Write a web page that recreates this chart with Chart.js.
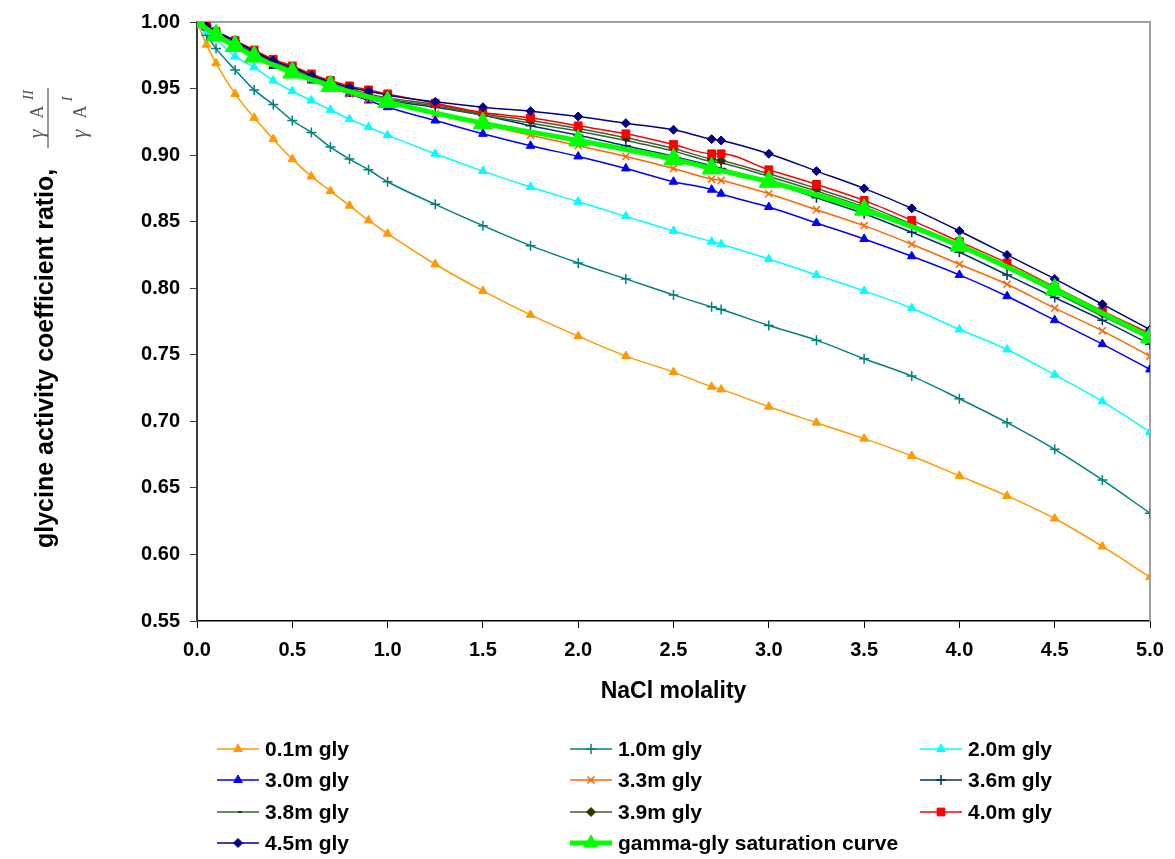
<!DOCTYPE html>
<html>
<head>
<meta charset="utf-8">
<script src="https://cdn.jsdelivr.net/npm/chart.js@4.4.1/dist/chart.umd.min.js"></script>
<style>
html, body { margin: 0; padding: 0; background: #fff; }
#wrap { width: 1175px; height: 859px; position: relative; }
</style>
</head>
<body>
<div id="wrap"><canvas id="chart_glycineActivityRatio"></canvas></div>
<script>
// NaCl molality grid shared by the glycine series
var naclMolality = [0, 0.05, 0.1, 0.2, 0.3, 0.4, 0.5, 0.6, 0.7, 0.8, 0.9, 1.0,
    1.25, 1.5, 1.75, 2.0, 2.25, 2.5, 2.7, 2.75, 3.0, 3.25, 3.5, 3.75, 4.0, 4.25, 4.5, 4.75, 5.0];

var gly01 = [1.000, 0.983, 0.969, 0.946, 0.928, 0.912, 0.897, 0.884, 0.873, 0.862, 0.851, 0.841,
    0.818, 0.798, 0.780, 0.764, 0.749, 0.737, 0.726, 0.724, 0.711, 0.699, 0.687, 0.674, 0.659, 0.644, 0.627, 0.606, 0.583];
var gly10 = [1.000, 0.990, 0.980, 0.964, 0.949, 0.938, 0.926, 0.917, 0.906, 0.897, 0.889, 0.880,
    0.863, 0.847, 0.832, 0.819, 0.807, 0.795, 0.786, 0.784, 0.772, 0.761, 0.747, 0.734, 0.717, 0.699, 0.679, 0.656, 0.631];
var gly20 = [1.000, 0.993, 0.987, 0.974, 0.966, 0.956, 0.948, 0.941, 0.934, 0.927, 0.921, 0.915,
    0.901, 0.888, 0.876, 0.865, 0.854, 0.843, 0.835, 0.833, 0.822, 0.810, 0.798, 0.785, 0.769, 0.754, 0.735, 0.715, 0.692];
var gly30 = [1.000, 0.996, 0.991, 0.983, 0.975, 0.967, 0.961, 0.956, 0.951, 0.946, 0.941, 0.936,
    0.926, 0.916, 0.907, 0.899, 0.890, 0.880, 0.874, 0.871, 0.861, 0.849, 0.837, 0.824, 0.810, 0.794, 0.776, 0.758, 0.739];
var gly33 = [1.000, 0.997, 0.992, 0.984, 0.976, 0.969, 0.963, 0.957, 0.951, 0.946, 0.942, 0.939,
    0.931, 0.923, 0.915, 0.907, 0.899, 0.890, 0.882, 0.881, 0.871, 0.859, 0.847, 0.833, 0.818, 0.803, 0.785, 0.768, 0.749];
var gly36 = [1.000, 0.997, 0.992, 0.984, 0.977, 0.970, 0.964, 0.958, 0.953, 0.948, 0.944, 0.941,
    0.936, 0.930, 0.922, 0.915, 0.907, 0.899, 0.892, 0.890, 0.880, 0.868, 0.856, 0.842, 0.827, 0.810, 0.793, 0.776, 0.758];
var gly38 = [1.000, 0.997, 0.992, 0.985, 0.977, 0.970, 0.964, 0.958, 0.953, 0.949, 0.945, 0.942,
    0.937, 0.930, 0.924, 0.918, 0.911, 0.903, 0.895, 0.894, 0.884, 0.873, 0.861, 0.846, 0.831, 0.815, 0.797, 0.779, 0.762];
var gly39 = [1.000, 0.997, 0.992, 0.985, 0.978, 0.971, 0.965, 0.959, 0.954, 0.950, 0.946, 0.943,
    0.938, 0.931, 0.926, 0.920, 0.913, 0.905, 0.897, 0.896, 0.886, 0.875, 0.863, 0.848, 0.833, 0.817, 0.799, 0.781, 0.764];
var gly40 = [1.000, 0.997, 0.993, 0.986, 0.979, 0.972, 0.967, 0.961, 0.956, 0.952, 0.949, 0.946,
    0.939, 0.932, 0.928, 0.922, 0.916, 0.908, 0.901, 0.901, 0.889, 0.878, 0.866, 0.851, 0.835, 0.819, 0.801, 0.783, 0.766];
var gly45 = [1.000, 0.997, 0.993, 0.986, 0.978, 0.971, 0.966, 0.960, 0.955, 0.951, 0.948, 0.945,
    0.940, 0.936, 0.933, 0.929, 0.924, 0.919, 0.912, 0.911, 0.901, 0.888, 0.875, 0.860, 0.843, 0.825, 0.807, 0.788, 0.769];

// gamma-glycine saturation curve has its own molality points
var satMolality = [0, 0.1, 0.2, 0.3, 0.5, 0.7, 1.0, 1.5, 2.0, 2.5, 2.7, 3.0, 3.5, 4.0, 4.5, 5.0];
var satRatio = [1.000, 0.990, 0.982, 0.974, 0.962, 0.952, 0.940, 0.924, 0.911, 0.897, 0.890, 0.880, 0.859, 0.832, 0.799, 0.763];

var seriesLabels = ['0.1m gly', '1.0m gly', '2.0m gly', '3.0m gly', '3.3m gly', '3.6m gly',
    '3.8m gly', '3.9m gly', '4.0m gly', '4.5m gly', 'gamma-gly saturation curve'];

var FONT = 'Arial, "Liberation Sans", Helvetica, sans-serif';
var SERIF = '"Liberation Serif", "DejaVu Serif", serif';
Chart.defaults.font.family = FONT;

function toPoints(xs, ys) {
    return xs.map(function (x, i) { return { x: x, y: ys[i] }; });
}

function series(i, xs, ys, line, marker, style, radius, lineWidth) {
    return {
        label: seriesLabels[i],
        data: toPoints(xs, ys),
        showLine: true,
        cubicInterpolationMode: 'monotone',
        borderColor: line,
        borderWidth: lineWidth || 1.5,
        pointStyle: style,
        pointRadius: radius,
        pointBackgroundColor: marker,
        pointBorderColor: marker,
        pointBorderWidth: (style === 'cross' || style === 'crossRot' || style === 'dash') ? 1.5 : 1,
        order: 20 - i
    };
}

var datasets = [
    series(0, naclMolality, gly01, '#FF9900', '#FF9900', 'triangle', 5),
    series(1, naclMolality, gly10, '#008080', '#008080', 'cross', 5),
    series(2, naclMolality, gly20, '#00FFFF', '#00FFFF', 'triangle', 5),
    series(3, naclMolality, gly30, '#0000FF', '#0000FF', 'triangle', 5),
    series(4, naclMolality, gly33, '#FF6600', '#FF6600', 'crossRot', 5),
    series(5, naclMolality, gly36, '#003366', '#003366', 'cross', 5),
    series(6, naclMolality, gly38, '#336633', '#002200', 'dash', 4),
    series(7, naclMolality, gly39, '#555533', '#333300', 'rectRot', 4.5),
    series(8, naclMolality, gly40, '#FF0000', '#FF0000', 'rect', 5.5),
    series(9, naclMolality, gly45, '#000080', '#000080', 'rectRot', 4.5),
    series(10, satMolality, satRatio, '#00FF00', '#00FF00', 'triangle', 11, 5)
];

var frameLines = {
    id: 'frameLines',
    beforeDatasetsDraw: function (chart) {
        var a = chart.chartArea, ctx = chart.ctx;
        ctx.save();
        ctx.strokeStyle = '#a0a0a0';
        ctx.lineWidth = 2;
        ctx.beginPath();
        ctx.moveTo(a.left, a.top);
        ctx.lineTo(a.right, a.top);
        ctx.lineTo(a.right, a.bottom);
        ctx.stroke();
        ctx.restore();
    }
};

var yTitle = {
    id: 'yTitle',
    afterDraw: function (chart) {
        var ctx = chart.ctx;
        ctx.save();
        ctx.translate(53, 548);
        ctx.rotate(-Math.PI / 2);
        ctx.fillStyle = '#000';
        ctx.font = 'bold 25px ' + FONT;
        ctx.textAlign = 'left';
        ctx.textBaseline = 'alphabetic';
        ctx.fillText('glycine activity coefficient ratio,', 0, 0);
        // fraction gamma^II_A / gamma^I_A
        ctx.fillStyle = '#555';
        ctx.strokeStyle = '#555';
        ctx.textAlign = 'center';
        ctx.textBaseline = 'middle';
        ctx.lineWidth = 1.2;
        ctx.beginPath();
        ctx.moveTo(400, -5);
        ctx.lineTo(460, -5);
        ctx.stroke();
        ctx.font = 'italic 22px ' + SERIF;
        ctx.fillText('\u03B3', 414, -16);
        ctx.fillText('\u03B3', 414, 27);
        ctx.font = '18px ' + SERIF;
        ctx.fillText('A', 436, -15);
        ctx.fillText('A', 436, 28);
        ctx.font = 'italic 15px ' + SERIF;
        ctx.fillText('II', 453, -24);
        ctx.fillText('I', 449, 15);
        ctx.restore();
    }
};

var gridLegend = {
    id: 'gridLegend',
    afterDraw: function (chart) {
        var ctx = chart.ctx;
        var colX = [217, 570, 920];
        var rowY = [749, 780, 812, 843];
        chart.data.datasets.forEach(function (ds, i) {
            var x0 = colX[i % 3], y = rowY[Math.floor(i / 3)];
            ctx.save();
            ctx.strokeStyle = ds.borderColor;
            ctx.lineWidth = ds.borderWidth;
            ctx.beginPath();
            ctx.moveTo(x0, y);
            ctx.lineTo(x0 + 42, y);
            ctx.stroke();
            ctx.fillStyle = ds.pointBackgroundColor;
            ctx.strokeStyle = ds.pointBorderColor;
            ctx.lineWidth = ds.pointBorderWidth;
            Chart.helpers.drawPoint(ctx, {
                pointStyle: ds.pointStyle,
                radius: ds.pointRadius > 6 ? 8 : ds.pointRadius,
                borderWidth: ds.pointBorderWidth,
                rotation: 0
            }, x0 + 21, y);
            ctx.fillStyle = '#000';
            ctx.font = 'bold 21px ' + FONT;
            ctx.textAlign = 'left';
            ctx.textBaseline = 'middle';
            ctx.fillText(ds.label, x0 + 48, y + 1);
            ctx.restore();
        });
    }
};

var chart_glycineActivityRatio = new Chart(document.getElementById('chart_glycineActivityRatio'), {
    type: 'scatter',
    data: { datasets: datasets },
    options: {
        animation: false,
        responsive: true,
        maintainAspectRatio: false,
        layout: { padding: { left: 0, top: 19, right: 25, bottom: 148 } },
        plugins: {
            legend: { display: false },
            tooltip: { enabled: false }
        },
        scales: {
            x: {
                type: 'linear',
                min: 0,
                max: 5,
                ticks: {
                    stepSize: 0.5,
                    maxRotation: 0,
                    padding: 10,
                    color: '#000',
                    font: { size: 20, weight: 'bold' },
                    callback: function (v) { return v.toFixed(1); }
                },
                grid: { drawOnChartArea: false, drawTicks: true, tickLength: 7, color: '#000' },
                border: { color: '#000', width: 1.5 },
                title: {
                    display: true,
                    text: 'NaCl molality',
                    color: '#000',
                    font: { size: 23, weight: 'bold' },
                    padding: { top: 0, bottom: 6 }
                },
                afterFit: function (s) { s.height = 90; }
            },
            y: {
                min: 0.55,
                max: 1.0,
                ticks: {
                    stepSize: 0.05,
                    padding: 10,
                    color: '#000',
                    font: { size: 20, weight: 'bold' },
                    callback: function (v) { return v.toFixed(2); }
                },
                grid: { drawOnChartArea: false, drawTicks: true, tickLength: 7, color: '#3a3a3a' },
                border: { color: '#3a3a3a', width: 2 },
                afterFit: function (s) { s.width = 197; }
            }
        }
    },
    plugins: [frameLines, yTitle, gridLegend]
});
</script>
</body>
</html>
